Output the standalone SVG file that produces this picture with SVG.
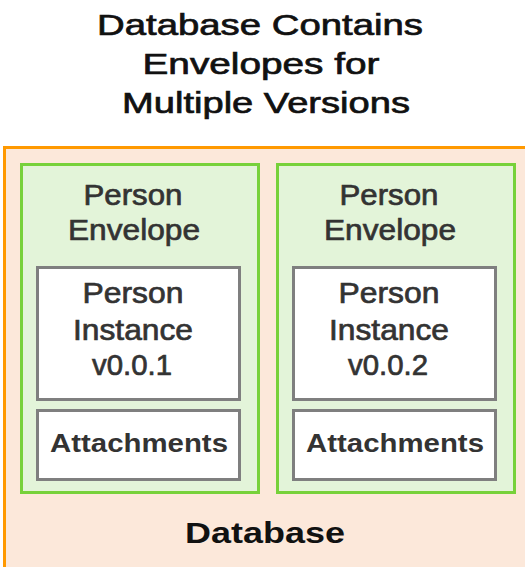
<svg xmlns="http://www.w3.org/2000/svg" width="525" height="567" viewBox="0 0 525 567">
<style>
text{font-family:"Liberation Sans",Arial,sans-serif;text-anchor:middle}
.title{font-size:30px;fill:#111;stroke:#111;stroke-width:0.7}
.env{fill:#e3f4d9;stroke:#77d13a;stroke-width:3}
.box{fill:#fff;stroke:#7f7f7f;stroke-width:3}
.lbl{font-size:30px;fill:#333;stroke:#333;stroke-width:0.7}
.att{font-size:26px;font-weight:bold;fill:#333}
.db{font-size:29px;font-weight:bold;fill:#111}
</style>
<rect width="525" height="567" fill="#fff"/>
<g id="title">
<text class="title" x="260" y="35" textLength="326" lengthAdjust="spacingAndGlyphs">Database Contains</text>
<text class="title" x="261" y="74" textLength="237" lengthAdjust="spacingAndGlyphs">Envelopes for</text>
<text class="title" x="266" y="113" textLength="288" lengthAdjust="spacingAndGlyphs">Multiple Versions</text>
</g>
<g id="database">
<rect x="4.5" y="147.5" width="540" height="440" fill="#fce8da" stroke="#ff9900" stroke-width="3"/>
<text class="db" x="265" y="543" textLength="160" lengthAdjust="spacingAndGlyphs">Database</text>
</g>
<g id="envelope1">
<rect class="env" x="21.5" y="164.5" width="237" height="328"/>
<text class="lbl" x="133" y="205" textLength="99" lengthAdjust="spacingAndGlyphs">Person</text>
<text class="lbl" x="134" y="240" textLength="132" lengthAdjust="spacingAndGlyphs">Envelope</text>
</g>
<g id="instance1">
<rect class="box" x="37.5" y="267.5" width="202" height="132"/>
<text class="lbl" x="133" y="303" textLength="101" lengthAdjust="spacingAndGlyphs">Person</text>
<text class="lbl" x="133" y="340" textLength="120" lengthAdjust="spacingAndGlyphs">Instance</text>
<text class="lbl" x="132" y="375" textLength="80" lengthAdjust="spacingAndGlyphs">v0.0.1</text>
</g>
<g id="attachments1">
<rect class="box" x="37.5" y="410.5" width="202" height="69"/>
<text class="att" x="139" y="452" textLength="178" lengthAdjust="spacingAndGlyphs">Attachments</text>
</g>
<g id="envelope2">
<rect class="env" x="277.5" y="164.5" width="237" height="328"/>
<text class="lbl" x="389" y="205" textLength="99" lengthAdjust="spacingAndGlyphs">Person</text>
<text class="lbl" x="390" y="240" textLength="132" lengthAdjust="spacingAndGlyphs">Envelope</text>
</g>
<g id="instance2">
<rect class="box" x="293.5" y="267.5" width="202" height="132"/>
<text class="lbl" x="389" y="303" textLength="101" lengthAdjust="spacingAndGlyphs">Person</text>
<text class="lbl" x="389" y="340" textLength="120" lengthAdjust="spacingAndGlyphs">Instance</text>
<text class="lbl" x="388" y="375" textLength="80" lengthAdjust="spacingAndGlyphs">v0.0.2</text>
</g>
<g id="attachments2">
<rect class="box" x="293.5" y="410.5" width="202" height="69"/>
<text class="att" x="395" y="452" textLength="178" lengthAdjust="spacingAndGlyphs">Attachments</text>
</g>
<g id="connectors"></g>
</svg>
